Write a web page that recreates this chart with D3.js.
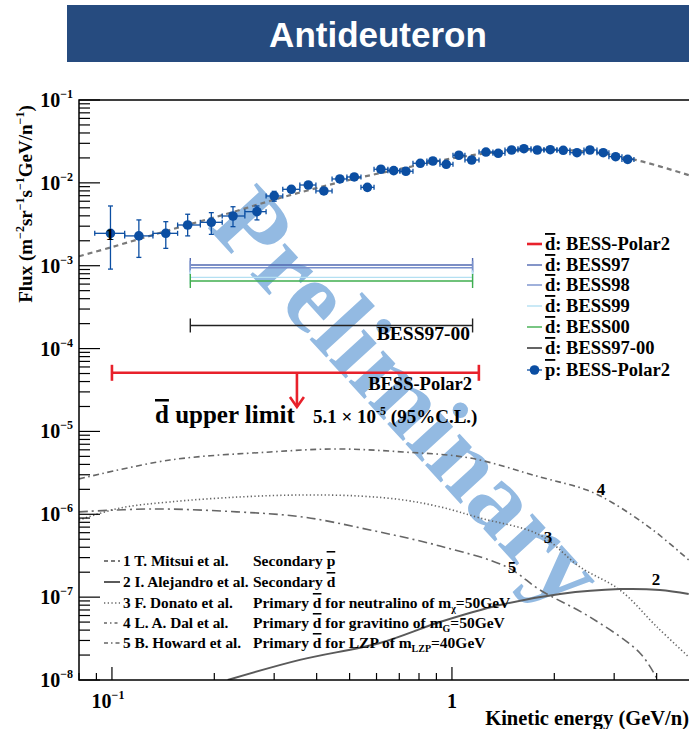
<!DOCTYPE html>
<html>
<head>
<meta charset="utf-8">
<script src="https://cdn.jsdelivr.net/npm/d3@7/dist/d3.min.js"></script>
<style>
  body { margin: 0; background: #fff; }
  text { font-family: "Liberation Serif", "Times New Roman", serif; font-weight: bold; }
  .ov { text-decoration: overline; }
</style>
</head>
<body>
<svg id="chart" width="689" height="729"></svg>
<script>
// ---- data ----
// antiproton flux, BESS-Polar2 (GeV/n, m^-2 sr^-1 s^-1 (GeV/n)^-1)
const pbarE = [0.099, 0.120, 0.144, 0.167, 0.196, 0.227, 0.267, 0.300, 0.337, 0.378, 0.420, 0.468,
  0.516, 0.564, 0.618, 0.674, 0.732, 0.807, 0.879, 0.962, 1.048, 1.143, 1.259, 1.368, 1.498, 1.628,
  1.782, 1.946, 2.125, 2.332, 2.546, 2.786, 3.030, 3.287];
const pbarFlux = [2.46e-3, 2.29e-3, 2.46e-3, 3.10e-3, 3.34e-3, 3.98e-3, 4.49e-3, 6.94e-3, 8.36e-3,
  9.42e-3, 7.98e-3, 1.114e-2, 1.178e-2, 8.83e-3, 1.459e-2, 1.403e-2, 1.380e-2, 1.723e-2, 1.836e-2,
  1.676e-2, 2.153e-2, 1.888e-2, 2.355e-2, 2.273e-2, 2.493e-2, 2.585e-2, 2.493e-2, 2.512e-2, 2.47e-2,
  2.31e-2, 2.493e-2, 2.31e-2, 2.07e-2, 1.92e-2];
const pbarBinEdges = [0.089, 0.109, 0.132, 0.156, 0.182, 0.211, 0.246, 0.284, 0.318, 0.357, 0.398,
  0.444, 0.491, 0.540, 0.590, 0.648, 0.703, 0.768, 0.844, 0.922, 1.007, 1.092, 1.201, 1.320, 1.432,
  1.564, 1.708, 1.865, 2.036, 2.224, 2.445, 2.670, 2.895, 3.162, 3.430];
// flux error bars (only the ones bigger than the marker)
const pbarErrLow  = [9.1e-4, 1.26e-3, 1.62e-3, 2.29e-3, 2.39e-3, 2.96e-3, 3.57e-3, 6.0e-3];
const pbarErrHigh = [5.26e-3, 3.57e-3, 3.40e-3, 4.18e-3, 4.37e-3, 5.15e-3, 5.26e-3, 7.9e-3];

// antideuteron upper limits
const limitNames  = ['BESS97', 'BESS98', 'BESS99', 'BESS00', 'BESS97-00'];
const limitColors = ['#5068b0', '#7890cc', '#b4e0f2', '#3fae4e', '#222222'];
const limitEmin   = [0.17, 0.17, 0.17, 0.17, 0.17];
const limitEmax   = [1.15, 1.15, 1.15, 1.15, 1.15];
const limitFlux   = [1.02e-3, 9.46e-4, 7.24e-4, 6.54e-4, 1.9e-4];
const polar2Limit = { emin: 0.1, emax: 1.2, flux: 5.1e-5, arrowTo: 1.97e-5, arrowE: 0.35 };

// model curves [E, flux]
const curveMitsui = [[0.08, 1.3e-3], [0.1, 1.68e-3], [0.148, 2.70e-3], [0.222, 4.33e-3], [0.312, 6.56e-3],
  [0.468, 1.02e-2], [0.703, 1.47e-2], [1.056, 2.05e-2], [1.585, 2.49e-2], [2.08, 2.5e-2],
  [2.725, 2.29e-2], [3.57, 1.84e-2], [4.97, 1.24e-2]];
const curveAlejandro = [[0.219, 1e-8], [0.357, 1.75e-8], [0.614, 2.80e-8], [0.922, 5.01e-8], [1.384, 8.04e-8],
  [2.08, 1.09e-7], [3.12, 1.25e-7], [4.09, 1.22e-7], [4.97, 1.09e-7]];
const curveDonato = [[0.08, 8.53e-7], [0.1056, 1.19e-6], [0.148, 1.41e-6], [0.238, 1.62e-6], [0.365, 1.71e-6],
  [0.536, 1.66e-6], [0.718, 1.49e-6], [0.922, 1.23e-6], [1.209, 9.02e-7], [1.815, 5.62e-7],
  [2.38, 2.31e-7], [3.12, 1.22e-7], [4.01, 4.36e-8], [4.97, 1.90e-8]];
const curveDal = [[0.08, 2.67e-6], [0.148, 4.52e-6], [0.292, 5.65e-6], [0.459, 6.14e-6], [0.718, 5.65e-6],
  [1.129, 4.78e-6], [1.815, 2.82e-6], [2.495, 1.96e-6], [2.975, 1.37e-6], [3.90, 6.47e-7], [4.97, 2.81e-7]];
const curveHoward = [[0.08, 1.07e-6], [0.132, 1.16e-6], [0.233, 1.07e-6], [0.365, 9.27e-7], [0.574, 6.47e-7],
  [0.922, 4.14e-7], [1.451, 2.31e-7], [1.815, 1.22e-7], [2.546, 5.75e-8], [3.57, 2.12e-8], [4.03, 1e-8]];

const svg = d3.select('#chart');
const x = d3.scaleLog().domain([0.08, 5]).range([79, 689.6]);
const y = d3.scaleLog().domain([1e-8, 1e-1]).range([680, 100]);

// title banner
svg.append('rect').attr('x', 67).attr('y', 5).attr('width', 622).attr('height', 57).attr('fill', '#264b7f');
svg.append('text').attr('x', 378).attr('y', 47).attr('text-anchor', 'middle')
  .style('font-family', '"Liberation Sans", Arial, sans-serif').attr('font-size', 35)
  .attr('fill', '#fff').text('Antideuteron');

svg.append('clipPath').attr('id', 'plotclip').append('rect')
  .attr('x', 79).attr('y', 100).attr('width', 612).attr('height', 580);
const plot = svg.append('g').attr('clip-path', 'url(#plotclip)');

// watermark
plot.append('text')
  .attr('transform', 'translate(410,396) rotate(47.5)')
  .attr('text-anchor', 'middle').attr('dy', '0.35em')
  .attr('font-size', 102).attr('fill', '#93bae2')
  .attr('textLength', 525).attr('lengthAdjust', 'spacingAndGlyphs')
  .text('Preliminary');

// model curves
const line = d3.line().x(d => x(d[0])).y(d => y(d[1])).curve(d3.curveCatmullRom);
const curves = [
  { d: curveMitsui, dash: '5,4', w: 2.2, c: '#7a7a7a', leg: '4,3' },
  { d: curveAlejandro, dash: null, w: 2, c: '#5a5a5a', leg: null },
  { d: curveDonato, dash: '1.3,2.4', w: 1.6, c: '#666', leg: '1.3,2.4' },
  { d: curveDal, dash: '6,3.5,1.6,3.5', w: 1.6, c: '#666', leg: '3,3,1.5,3' },
  { d: curveHoward, dash: '9,4,2,4', w: 1.6, c: '#666', leg: '4,3,1.5,3' },
];
curves.forEach(cv => {
  plot.append('path').attr('d', line(cv.d)).attr('fill', 'none')
    .attr('stroke', cv.c).attr('stroke-width', cv.w)
    .attr('stroke-dasharray', cv.dash);
});

// BESS upper limits
limitNames.forEach((n, i) => {
  const g = plot.append('g').attr('stroke', limitColors[i]).attr('stroke-width', 1.4);
  const yy = y(limitFlux[i]);
  g.append('line').attr('x1', x(limitEmin[i])).attr('x2', x(limitEmax[i])).attr('y1', yy).attr('y2', yy);
  [limitEmin[i], limitEmax[i]].forEach(e => {
    g.append('line').attr('x1', x(e)).attr('x2', x(e)).attr('y1', yy - 7).attr('y2', yy + 7);
  });
});
svg.append('text').attr('x', 470).attr('y', 340).attr('text-anchor', 'end').attr('font-size', 19.5).text('BESS97-00');

// BESS-Polar2 limit
{
  const g = plot.append('g').attr('stroke', '#e8212b').attr('stroke-width', 2.6).attr('fill', 'none');
  const yy = y(polar2Limit.flux);
  g.append('line').attr('x1', x(polar2Limit.emin)).attr('x2', x(polar2Limit.emax)).attr('y1', yy).attr('y2', yy);
  [polar2Limit.emin, polar2Limit.emax].forEach(e => {
    g.append('line').attr('x1', x(e)).attr('x2', x(e)).attr('y1', yy - 8).attr('y2', yy + 8);
  });
  const ax = x(polar2Limit.arrowE), ay = y(polar2Limit.arrowTo);
  g.append('line').attr('x1', ax).attr('x2', ax).attr('y1', yy).attr('y2', ay);
  g.append('path').attr('d', `M${ax - 7},${ay - 10}L${ax},${ay}L${ax + 7},${ay - 10}`);
}
svg.append('text').attr('x', 472).attr('y', 390).attr('text-anchor', 'end').attr('font-size', 18.5).text('BESS-Polar2');
{
  const t = svg.append('text').attr('x', 155).attr('y', 423).attr('font-size', 25);
  t.append('tspan').attr('class', 'ov').text('d');
  t.append('tspan').text(' upper limit');
  const t2 = svg.append('text').attr('x', 313).attr('y', 423).attr('font-size', 19);
  t2.append('tspan').text('5.1  \u00d7 10');
  t2.append('tspan').attr('font-size', 12).attr('dy', -8).text('-5');
  t2.append('tspan').attr('dy', 8).text('  (95%C.L.)');
}

// antiproton data
const pts = pbarE.map((e, i) => ({ e, f: pbarFlux[i], lo: pbarBinEdges[i], hi: pbarBinEdges[i + 1],
  fl: pbarErrLow[i], fh: pbarErrHigh[i] }));
const blue = '#0b4ea2';
const pg = plot.append('g').attr('stroke', blue).attr('stroke-width', 1.3);
pts.forEach(p => {
  const cy = y(p.f);
  pg.append('line').attr('x1', x(p.lo)).attr('x2', x(p.hi)).attr('y1', cy).attr('y2', cy);
  [p.lo, p.hi].forEach(e => pg.append('line').attr('x1', x(e)).attr('x2', x(e)).attr('y1', cy - 2.5).attr('y2', cy + 2.5));
  if (p.fl != null) {
    const cx = x(p.e);
    pg.append('line').attr('x1', cx).attr('x2', cx).attr('y1', y(p.fl)).attr('y2', y(p.fh));
    [p.fl, p.fh].forEach(f => pg.append('line').attr('x1', cx - 2.5).attr('x2', cx + 2.5).attr('y1', y(f)).attr('y2', y(f)));
  }
});
plot.append('g').selectAll('circle').data(pts).join('circle')
  .attr('cx', d => x(d.e)).attr('cy', d => y(d.f)).attr('r', 4.8).attr('fill', blue);

// curve number labels
const curveLabels = ['1', '2', '3', '4', '5'];
const curveLabelPos = [[110, 240], [656, 585], [548, 543], [601, 495], [512, 573]];
curveLabels.forEach((s, i) => svg.append('text').attr('x', curveLabelPos[i][0]).attr('y', curveLabelPos[i][1])
  .attr('text-anchor', 'middle').attr('font-size', 17).text(s));

// frame and ticks
svg.append('rect').attr('x', 79).attr('y', 100).attr('width', 620).attr('height', 580)
  .attr('fill', 'none').attr('stroke', '#000').attr('stroke-width', 1.5);
const isMajor = v => Math.abs(Math.log10(v) - Math.round(Math.log10(v))) < 1e-6;
const ax = svg.append('g').attr('stroke', '#000').attr('stroke-width', 1.2);
y.ticks().forEach(v => {
  const len = isMajor(v) ? 21 : 11;
  ax.append('line').attr('x1', 79).attr('x2', 79 + len).attr('y1', y(v)).attr('y2', y(v));
});
x.ticks().filter(v => x(v) < 689).forEach(v => {
  const len = isMajor(v) ? 13 : 7;
  ax.append('line').attr('x1', x(v)).attr('x2', x(v)).attr('y1', 680).attr('y2', 680 - len);
});
y.ticks().filter(isMajor).forEach(v => {
  const t = svg.append('text').attr('x', 73).attr('y', y(v) + 7).attr('text-anchor', 'end').attr('font-size', 20);
  t.append('tspan').text('10');
  t.append('tspan').attr('font-size', 12).attr('dy', -9).text('\u2212' + Math.round(-Math.log10(v)));
});
{
  const t = svg.append('text').attr('x', 108).attr('y', 708).attr('text-anchor', 'middle').attr('font-size', 20);
  t.append('tspan').text('10');
  t.append('tspan').attr('font-size', 12).attr('dy', -9).text('\u22121');
  svg.append('text').attr('x', x(1)).attr('y', 708).attr('text-anchor', 'middle').attr('font-size', 20).text('1');
}
svg.append('text').attr('x', 689).attr('y', 725).attr('text-anchor', 'end').attr('font-size', 20.5)
  .text('Kinetic energy (GeV/n)');
{
  const t = svg.append('text').attr('transform', 'translate(32,204) rotate(-90)')
    .attr('text-anchor', 'middle').attr('font-size', 19);
  const parts = [['Flux (m', ''], ['\u22122', 's'], ['sr', ''], ['\u22121', 's'], ['s', ''], ['\u22121', 's'],
    ['GeV/n', ''], ['\u22121', 's'], [')', '']];
  let up = false;
  parts.forEach(([s, k]) => {
    const sp = t.append('tspan').text(s);
    if (k === 's') { sp.attr('font-size', 12).attr('dy', up ? 0 : -8); up = true; }
    else { sp.attr('dy', up ? 8 : 0); up = false; }
  });
}

// top-right legend
const legTop = svg.append('g');
const legRows = [244, 265, 285, 306, 327, 348, 370];
legTop.append('line').attr('x1', 527).attr('x2', 542).attr('y1', legRows[0]).attr('y2', legRows[0])
  .attr('stroke', '#e8212b').attr('stroke-width', 2.6);
limitNames.forEach((n, i) => {
  legTop.append('line').attr('x1', 527).attr('x2', 542).attr('y1', legRows[i + 1]).attr('y2', legRows[i + 1])
    .attr('stroke', limitColors[i]).attr('stroke-width', 1.4);
});
legTop.append('line').attr('x1', 527).attr('x2', 542).attr('y1', legRows[6]).attr('y2', legRows[6])
  .attr('stroke', blue).attr('stroke-width', 1.3);
legTop.append('circle').attr('cx', 534.5).attr('cy', legRows[6]).attr('r', 4.8).attr('fill', blue);
['BESS-Polar2'].concat(limitNames).forEach((n, i) => {
  const t = legTop.append('text').attr('x', 545).attr('y', legRows[i] + 6).attr('font-size', 18.5);
  t.append('tspan').attr('class', 'ov').text('d');
  t.append('tspan').text(': ' + n);
});
{
  const t = legTop.append('text').attr('x', 545).attr('y', legRows[6] + 6).attr('font-size', 18.5);
  t.append('tspan').attr('class', 'ov').text('p');
  t.append('tspan').text(': BESS-Polar2');
}

// bottom-left legend
const legBot = svg.append('g');
const botRows = [561, 582, 603, 623, 643];
const botAuthors = ['1 T. Mitsui et al.', '2 I. Alejandro et al.', '3 F. Donato et al.', '4 L. A. Dal et al.', '5 B. Howard et al.'];
curves.forEach((cv, i) => {
  legBot.append('line').attr('x1', 104).attr('x2', 120).attr('y1', botRows[i]).attr('y2', botRows[i])
    .attr('stroke', cv.c).attr('stroke-width', cv.w).attr('stroke-dasharray', cv.leg);
  legBot.append('text').attr('x', 123).attr('y', botRows[i] + 5).attr('font-size', 15.3).text(botAuthors[i]);
});
{
  const r = botRows;
  let t = legBot.append('text').attr('x', 253).attr('y', r[0] + 5).attr('font-size', 15.5);
  t.append('tspan').text('Secondary  ');
  t.append('tspan').attr('class', 'ov').text('p');
  t = legBot.append('text').attr('x', 253).attr('y', r[1] + 5).attr('font-size', 15.5);
  t.append('tspan').text('Secondary  ');
  t.append('tspan').attr('class', 'ov').text('d');
  const prim = [[r[2], 'neutralino', '\u03c7', '50GeV'], [r[3], 'gravitino', 'G', '50GeV'], [r[4], 'LZP', 'LZP', '40GeV']];
  prim.forEach(([yy, what, sub, m]) => {
    const tt = legBot.append('text').attr('x', 253).attr('y', yy + 5).attr('font-size', 15.5);
    tt.append('tspan').text('Primary  ');
    tt.append('tspan').attr('class', 'ov').text('d');
    tt.append('tspan').text(' for ' + what + ' of m');
    tt.append('tspan').attr('font-size', 10).attr('dy', 4).text(sub);
    tt.append('tspan').attr('dy', -4).text('=' + m);
  });
}
</script>
</body>
</html>
